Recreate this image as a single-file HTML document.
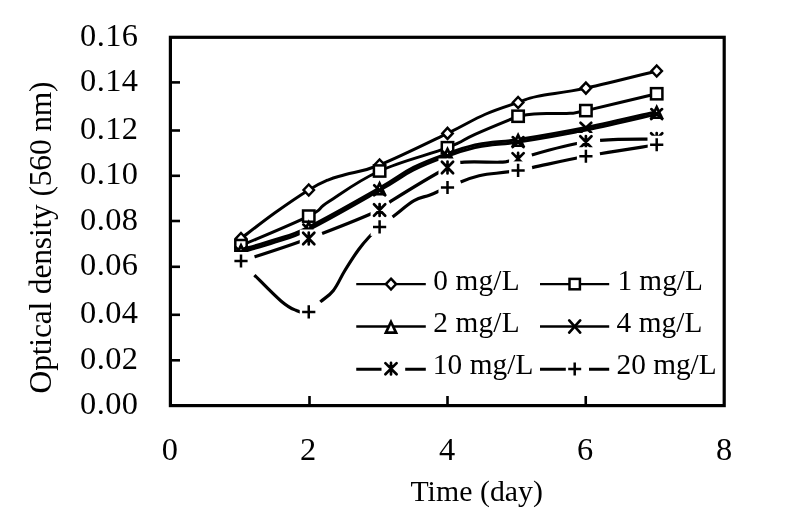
<!DOCTYPE html>
<html><head><meta charset="utf-8"><title>Optical density vs time</title>
<style>html,body{margin:0;padding:0;background:#fff}body{width:800px;height:527px;overflow:hidden}</style></head>
<body>
<svg width="800" height="527" viewBox="0 0 800 527" style="display:block">
<rect width="800" height="527" fill="#fff"/>
<rect x="170.4" y="37.3" width="553.8000000000001" height="368.3" fill="none" stroke="#000" stroke-width="3.2"/>
<line x1="170.4" y1="82.4" x2="180" y2="82.4" stroke="#000" stroke-width="2.6"/>
<line x1="170.4" y1="130.5" x2="180" y2="130.5" stroke="#000" stroke-width="2.6"/>
<line x1="170.4" y1="175.8" x2="180" y2="175.8" stroke="#000" stroke-width="2.6"/>
<line x1="170.4" y1="221" x2="180" y2="221" stroke="#000" stroke-width="2.6"/>
<line x1="170.4" y1="266.8" x2="180" y2="266.8" stroke="#000" stroke-width="2.6"/>
<line x1="170.4" y1="314.8" x2="180" y2="314.8" stroke="#000" stroke-width="2.6"/>
<line x1="170.4" y1="360.3" x2="180" y2="360.3" stroke="#000" stroke-width="2.6"/>
<line x1="309.5" y1="405.6" x2="309.5" y2="396" stroke="#000" stroke-width="2.6"/>
<line x1="447.5" y1="405.6" x2="447.5" y2="396" stroke="#000" stroke-width="2.6"/>
<line x1="585.75" y1="405.6" x2="585.75" y2="396" stroke="#000" stroke-width="2.6"/>
<path d="M241 238.5 C247.46 233.62 262.13 222.02 275 212.8 C287.87 203.59 298.58 196.27 308.75 190 C318.92 183.73 321.5 182.75 328.5 179.8 C335.5 176.86 335.89 177.31 345.6 174.5 C355.31 171.69 360.24 172.81 379.6 165 C398.96 157.19 427.51 143 447.5 133.4 C467.49 123.81 471.39 120.37 484.8 114.5 C498.21 108.63 508.13 105.94 518.1 102.5 C528.08 99.06 524.42 99.14 537.3 96.4 C550.18 93.66 563.21 92.93 585.9 88.1 C608.59 83.27 643.25 74.25 656.7 71" fill="none" stroke="#000" stroke-width="3.0" stroke-linejoin="round"/>
<path d="M241 233 L246.2 238.5 L241 244 L235.8 238.5Z" fill="#fff" stroke="#000" stroke-width="2.5" stroke-linejoin="miter"/>
<path d="M308.75 184.5 L313.95 190 L308.75 195.5 L303.55 190Z" fill="#fff" stroke="#000" stroke-width="2.5" stroke-linejoin="miter"/>
<path d="M379.6 159.5 L384.8 165 L379.6 170.5 L374.4 165Z" fill="#fff" stroke="#000" stroke-width="2.5" stroke-linejoin="miter"/>
<path d="M447.5 127.9 L452.7 133.4 L447.5 138.9 L442.3 133.4Z" fill="#fff" stroke="#000" stroke-width="2.5" stroke-linejoin="miter"/>
<path d="M518.1 97 L523.3 102.5 L518.1 108 L512.9 102.5Z" fill="#fff" stroke="#000" stroke-width="2.5" stroke-linejoin="miter"/>
<path d="M585.9 82.6 L591.1 88.1 L585.9 93.6 L580.7 88.1Z" fill="#fff" stroke="#000" stroke-width="2.5" stroke-linejoin="miter"/>
<path d="M656.7 65.5 L661.9 71 L656.7 76.5 L651.5 71Z" fill="#fff" stroke="#000" stroke-width="2.5" stroke-linejoin="miter"/>
<path d="M241 245.6 C253.87 240 292.12 224.42 308.75 216.1 C325.38 207.78 315.04 210.37 328.5 201.8 C341.96 193.23 356.99 181.28 379.6 171 C402.21 160.72 429.37 154.67 447.5 147.7 C465.63 140.73 461.59 140.28 475 134.3 C488.41 128.32 518.1 116.25 518.1 116.25 C518.1 116.25 527.56 114.52 534 114 C540.44 113.48 545.16 113.63 552 113.5 C558.84 113.37 563.56 113.85 570 113.3 C576.44 112.75 569.43 114.31 585.9 110.6 C602.37 106.89 643.25 96.95 656.7 93.75" fill="none" stroke="#000" stroke-width="3.0" stroke-linejoin="round"/>
<rect x="235.3" y="240" width="11.4" height="11.2" fill="#fff" stroke="#000" stroke-width="2.5"/>
<rect x="303.05" y="210.5" width="11.4" height="11.2" fill="#fff" stroke="#000" stroke-width="2.5"/>
<rect x="373.9" y="165.4" width="11.4" height="11.2" fill="#fff" stroke="#000" stroke-width="2.5"/>
<rect x="441.8" y="142.1" width="11.4" height="11.2" fill="#fff" stroke="#000" stroke-width="2.5"/>
<rect x="512.4" y="110.65" width="11.4" height="11.2" fill="#fff" stroke="#000" stroke-width="2.5"/>
<rect x="580.2" y="105" width="11.4" height="11.2" fill="#fff" stroke="#000" stroke-width="2.5"/>
<rect x="651" y="88.15" width="11.4" height="11.2" fill="#fff" stroke="#000" stroke-width="2.5"/>
<path d="M241 249.8 C247.46 247.88 262.13 244.03 275 239.7 C287.87 235.37 288.88 236.82 308.75 227 C328.62 217.18 359.7 199.32 379.6 188 C399.5 176.68 400.6 173.94 413.5 167.4 C426.4 160.86 435.81 157.86 447.5 153.6 C459.19 149.34 465.98 147.2 475 145 C484.02 142.8 486.81 143.03 495 142 C503.19 140.97 500.83 142.35 518.1 139.6 C535.37 136.84 559.57 132.82 585.9 127.5 C612.23 122.18 643.25 114.62 656.7 111.6" fill="none" stroke="#000" stroke-width="3.0" stroke-linejoin="round"/>
<path d="M241 245.3 L246.1 255.95 L235.9 255.95Z" fill="#fff" stroke="#000" stroke-width="2.7" stroke-linejoin="miter"/>
<path d="M308.75 222.5 L313.85 233.15 L303.65 233.15Z" fill="#fff" stroke="#000" stroke-width="2.7" stroke-linejoin="miter"/>
<path d="M379.6 183.5 L384.7 194.15 L374.5 194.15Z" fill="#fff" stroke="#000" stroke-width="2.7" stroke-linejoin="miter"/>
<path d="M447.5 149.1 L452.6 159.75 L442.4 159.75Z" fill="#fff" stroke="#000" stroke-width="2.7" stroke-linejoin="miter"/>
<path d="M518.1 135.1 L523.2 145.75 L513 145.75Z" fill="#fff" stroke="#000" stroke-width="2.7" stroke-linejoin="miter"/>
<path d="M656.7 107.1 L661.8 117.75 L651.6 117.75Z" fill="#fff" stroke="#000" stroke-width="2.7" stroke-linejoin="miter"/>
<path d="M241 252.2 C247.46 250.28 262.13 246.41 275 242.1 C287.87 237.79 288.88 239.34 308.75 229.5 C328.62 219.66 359.7 201.61 379.6 190.3 C399.5 179 400.6 176.52 413.5 170 C426.4 163.48 435.81 160.26 447.5 156 C459.19 151.74 465.98 149.77 475 147.6 C484.02 145.43 486.81 145.64 495 144.6 C503.19 143.56 500.83 144.87 518.1 142.1 C535.37 139.33 559.57 135.32 585.9 130 C612.23 124.68 643.25 117.12 656.7 114.1" fill="none" stroke="#000" stroke-width="3.0" stroke-linejoin="round"/>
<path d="M235.6 247.2 L246.4 257.2 M235.6 257.2 L246.4 247.2" fill="none" stroke="#000" stroke-width="2.7" stroke-linecap="round"/>
<path d="M303.35 224.5 L314.15 234.5 M303.35 234.5 L314.15 224.5" fill="none" stroke="#000" stroke-width="2.7" stroke-linecap="round"/>
<path d="M374.2 185.3 L385 195.3 M374.2 195.3 L385 185.3" fill="none" stroke="#000" stroke-width="2.7" stroke-linecap="round"/>
<path d="M442.1 151 L452.9 161 M442.1 161 L452.9 151" fill="none" stroke="#000" stroke-width="2.7" stroke-linecap="round"/>
<path d="M512.7 137.1 L523.5 147.1 M512.7 147.1 L523.5 137.1" fill="none" stroke="#000" stroke-width="2.7" stroke-linecap="round"/>
<path d="M580.5 122.8 L591.3 132.8 M580.5 132.8 L591.3 122.8" fill="none" stroke="#000" stroke-width="2.7" stroke-linecap="round"/>
<path d="M651.3 109.1 L662.1 119.1 M651.3 119.1 L662.1 109.1" fill="none" stroke="#000" stroke-width="2.7" stroke-linecap="round"/>
<path d="M241 261.3 C253.87 256.97 282.42 248.25 308.75 238.5" fill="none" stroke="#000" stroke-width="3.2" stroke-dasharray="0 14.3 400 0"/>
<path d="M308.75 238.5 C335.08 228.75 363.59 217.33 379.6 210" fill="none" stroke="#000" stroke-width="3.2" stroke-dasharray="0 14.3 400 0"/>
<path d="M379.6 210 C395.61 202.67 380.1 207.97 393 199.9 C405.9 191.83 434.39 174.64 447.5 167.5" fill="none" stroke="#000" stroke-width="3.2" stroke-dasharray="0 13.2 400 0"/>
<path d="M447.5 167.5 C460.61 160.36 452.02 163.31 462 162.3 C471.98 161.29 491.07 162.45 500 162.2 C508.93 161.95 505.56 161.65 509 161 C512.44 160.35 503.49 162.41 518.1 158.8" fill="none" stroke="#000" stroke-width="3.2" stroke-dasharray="0 14.3 400 0"/>
<path d="M518.1 158.8 C532.71 155.19 559.57 145.76 585.9 142" fill="none" stroke="#000" stroke-width="3.2" stroke-dasharray="0 14.3 400 0"/>
<path d="M585.9 142 C612.23 138.24 643.25 139.57 656.7 139" fill="none" stroke="#000" stroke-width="3.2" stroke-dasharray="0 14.3 400 0"/>
<rect x="232" y="252.3" width="18" height="18" fill="#fff"/><path d="M235.4 255.6 L246.6 267 M235.4 267 L246.6 255.6 M241 255.4 L241 267.2" fill="none" stroke="#000" stroke-width="2.7" stroke-linecap="round"/>
<rect x="299.75" y="229.5" width="18" height="18" fill="#fff"/><path d="M303.15 232.8 L314.35 244.2 M303.15 244.2 L314.35 232.8 M308.75 232.6 L308.75 244.4" fill="none" stroke="#000" stroke-width="2.7" stroke-linecap="round"/>
<rect x="370.6" y="201" width="18" height="18" fill="#fff"/><path d="M374 204.3 L385.2 215.7 M374 215.7 L385.2 204.3 M379.6 204.1 L379.6 215.9" fill="none" stroke="#000" stroke-width="2.7" stroke-linecap="round"/>
<rect x="438.5" y="158.5" width="18" height="18" fill="#fff"/><path d="M441.9 161.8 L453.1 173.2 M441.9 173.2 L453.1 161.8 M447.5 161.6 L447.5 173.4" fill="none" stroke="#000" stroke-width="2.7" stroke-linecap="round"/>
<rect x="509.1" y="149.8" width="18" height="18" fill="#fff"/><path d="M512.5 153.1 L523.7 164.5 M512.5 164.5 L523.7 153.1 M518.1 152.9 L518.1 164.7" fill="none" stroke="#000" stroke-width="2.7" stroke-linecap="round"/>
<rect x="576.9" y="133" width="18" height="18" fill="#fff"/><path d="M580.3 136.3 L591.5 147.7 M580.3 147.7 L591.5 136.3 M585.9 136.1 L585.9 147.9" fill="none" stroke="#000" stroke-width="2.7" stroke-linecap="round"/>
<rect x="647.7" y="130" width="18" height="18" fill="#fff"/><path d="M651.1 133.3 L662.3 144.7 M651.1 144.7 L662.3 133.3 M656.7 133.1 L656.7 144.9" fill="none" stroke="#000" stroke-width="2.7" stroke-linecap="round"/>
<path d="M241 261 C243.55 263.66 246.75 267.35 254.4 275 C262.05 282.65 273.35 294.54 281.25 301.25 C289.15 307.96 290.77 308.28 296 310.3 C301.23 312.32 304.14 313.5 308.75 311.9" fill="none" stroke="#000" stroke-width="3.2" stroke-dasharray="0 19.4 400 0"/>
<path d="M308.75 311.9 C313.36 310.3 315.57 305.98 320.25 301.9 C324.93 297.81 328.72 296.37 333.4 290.4 C338.08 284.43 340.13 278.23 344.9 270.5 C349.67 262.77 353.73 256.25 358.5 249.7 C363.27 243.14 365.99 240.33 370 236 C374.01 231.67 374.89 230.85 379.6 226.9" fill="none" stroke="#000" stroke-width="3.2" stroke-dasharray="0 15.4 400 0"/>
<path d="M379.6 226.9 C384.31 222.95 388.25 220.2 394.8 215.2 C401.36 210.2 407.41 204.44 414.1 200.6 C420.79 196.76 423.65 197.49 430 195 C436.35 192.51 438.17 191.15 447.5 187.5" fill="none" stroke="#000" stroke-width="3.2" stroke-dasharray="0 16.5 400 0"/>
<path d="M447.5 187.5 C456.83 183.85 465.69 179.05 479.1 175.8 C492.51 172.55 497.81 174.11 518.1 170.4" fill="none" stroke="#000" stroke-width="3.2" stroke-dasharray="0 14.3 400 0"/>
<path d="M518.1 170.4 C538.39 166.69 559.57 161.12 585.9 156.25" fill="none" stroke="#000" stroke-width="3.2" stroke-dasharray="0 14.3 400 0"/>
<path d="M585.9 156.25 C612.23 151.38 643.25 146.94 656.7 144.75" fill="none" stroke="#000" stroke-width="3.2" stroke-dasharray="0 14.3 400 0"/>
<rect x="232" y="252" width="18" height="18" fill="#fff"/><path d="M234.4 261 L247.6 261 M241 254.4 L241 267.6" fill="none" stroke="#000" stroke-width="2.5"/>
<rect x="299.75" y="302.9" width="18" height="18" fill="#fff"/><path d="M302.15 311.9 L315.35 311.9 M308.75 305.3 L308.75 318.5" fill="none" stroke="#000" stroke-width="2.5"/>
<rect x="370.6" y="217.9" width="18" height="18" fill="#fff"/><path d="M373 226.9 L386.2 226.9 M379.6 220.3 L379.6 233.5" fill="none" stroke="#000" stroke-width="2.5"/>
<rect x="438.5" y="178.5" width="18" height="18" fill="#fff"/><path d="M440.9 187.5 L454.1 187.5 M447.5 180.9 L447.5 194.1" fill="none" stroke="#000" stroke-width="2.5"/>
<rect x="509.1" y="161.4" width="18" height="18" fill="#fff"/><path d="M511.5 170.4 L524.7 170.4 M518.1 163.8 L518.1 177" fill="none" stroke="#000" stroke-width="2.5"/>
<rect x="576.9" y="147.25" width="18" height="18" fill="#fff"/><path d="M579.3 156.25 L592.5 156.25 M585.9 149.65 L585.9 162.85" fill="none" stroke="#000" stroke-width="2.5"/>
<rect x="647.7" y="135.75" width="18" height="18" fill="#fff"/><path d="M650.1 144.75 L663.3 144.75 M656.7 138.15 L656.7 151.35" fill="none" stroke="#000" stroke-width="2.5"/>
<line x1="356.25" y1="284.1" x2="425.8" y2="284.1" stroke="#000" stroke-width="2.4"/>
<path d="M391 278.7 L396.1 284.1 L391 289.5 L385.9 284.1Z" fill="#fff" stroke="#000" stroke-width="2.5" stroke-linejoin="miter"/>
<line x1="540" y1="284.1" x2="609.2" y2="284.1" stroke="#000" stroke-width="2.4"/>
<rect x="569.5" y="278.9" width="10.4" height="10.4" fill="#fff" stroke="#000" stroke-width="2.5"/>
<line x1="356.25" y1="326.5" x2="425.8" y2="326.5" stroke="#000" stroke-width="2.4"/>
<path d="M391 322 L396.1 332.65 L385.9 332.65Z" fill="#fff" stroke="#000" stroke-width="2.7" stroke-linejoin="miter"/>
<line x1="540" y1="326.5" x2="609.2" y2="326.5" stroke="#000" stroke-width="2.4"/>
<path d="M569.2 320.4 L580.2 332.6 M569.2 332.6 L580.2 320.4" fill="none" stroke="#000" stroke-width="2.7" stroke-linecap="round"/>
<path d="M356.25 369.2 H381.5 M405.2 369.2 H425.8" stroke="#000" stroke-width="3.1" fill="none"/>
<rect x="391" y="368.7" width="0" height="0" fill="#fff"/><path d="M385.4 363.1 L396.6 374.3 M385.4 374.3 L396.6 363.1 M391 362.9 L391 374.5" fill="none" stroke="#000" stroke-width="2.7" stroke-linecap="round"/>
<path d="M540 369.2 H565.8 M589 369.2 H609.2" stroke="#000" stroke-width="3.1" fill="none"/>
<rect x="574.7" y="369" width="0" height="0" fill="#fff"/><path d="M568.2 369 L581.2 369 M574.7 362.5 L574.7 375.5" fill="none" stroke="#000" stroke-width="2.5"/>
<text x="138" y="45.849999999999994" font-size="32.4" text-anchor="end" font-family="'Liberation Serif',serif" fill="#000" textLength="58" lengthAdjust="spacing">0.16</text>
<text x="138" y="90.95" font-size="32.4" text-anchor="end" font-family="'Liberation Serif',serif" fill="#000" textLength="58" lengthAdjust="spacing">0.14</text>
<text x="138" y="139.05" font-size="32.4" text-anchor="end" font-family="'Liberation Serif',serif" fill="#000" textLength="58" lengthAdjust="spacing">0.12</text>
<text x="138" y="184.35000000000002" font-size="32.4" text-anchor="end" font-family="'Liberation Serif',serif" fill="#000" textLength="58" lengthAdjust="spacing">0.10</text>
<text x="138" y="229.55" font-size="32.4" text-anchor="end" font-family="'Liberation Serif',serif" fill="#000" textLength="58" lengthAdjust="spacing">0.08</text>
<text x="138" y="275.35" font-size="32.4" text-anchor="end" font-family="'Liberation Serif',serif" fill="#000" textLength="58" lengthAdjust="spacing">0.06</text>
<text x="138" y="323.35" font-size="32.4" text-anchor="end" font-family="'Liberation Serif',serif" fill="#000" textLength="58" lengthAdjust="spacing">0.04</text>
<text x="138" y="368.85" font-size="32.4" text-anchor="end" font-family="'Liberation Serif',serif" fill="#000" textLength="58" lengthAdjust="spacing">0.02</text>
<text x="138" y="414.15000000000003" font-size="32.4" text-anchor="end" font-family="'Liberation Serif',serif" fill="#000" textLength="58" lengthAdjust="spacing">0.00</text>
<text x="169.75" y="460.2" font-size="32.4" text-anchor="middle" font-family="'Liberation Serif',serif" fill="#000" >0</text>
<text x="308.2" y="460.2" font-size="32.4" text-anchor="middle" font-family="'Liberation Serif',serif" fill="#000" >2</text>
<text x="447" y="460.2" font-size="32.4" text-anchor="middle" font-family="'Liberation Serif',serif" fill="#000" >4</text>
<text x="585" y="460.2" font-size="32.4" text-anchor="middle" font-family="'Liberation Serif',serif" fill="#000" >6</text>
<text x="724" y="460.2" font-size="32.4" text-anchor="middle" font-family="'Liberation Serif',serif" fill="#000" >8</text>
<text x="410.4" y="501" font-size="29.8" text-anchor="start" font-family="'Liberation Serif',serif" fill="#000" textLength="132.6" lengthAdjust="spacing">Time (day)</text>
<text transform="translate(51.3,393.4) rotate(-90)" font-size="31.5" font-family="'Liberation Serif',serif" fill="#000" textLength="312" lengthAdjust="spacing">Optical density (560 nm)</text>
<text x="433.2" y="289.5" font-size="29.3" text-anchor="start" font-family="'Liberation Serif',serif" fill="#000" textLength="86.4" lengthAdjust="spacing">0 mg/L</text>
<text x="617.4" y="289.5" font-size="29.3" text-anchor="start" font-family="'Liberation Serif',serif" fill="#000" textLength="85.4" lengthAdjust="spacing">1 mg/L</text>
<text x="433.2" y="331.8" font-size="29.3" text-anchor="start" font-family="'Liberation Serif',serif" fill="#000" textLength="86.4" lengthAdjust="spacing">2 mg/L</text>
<text x="616.6" y="331.8" font-size="29.3" text-anchor="start" font-family="'Liberation Serif',serif" fill="#000" textLength="85.8" lengthAdjust="spacing">4 mg/L</text>
<text x="432.8" y="374.2" font-size="29.3" text-anchor="start" font-family="'Liberation Serif',serif" fill="#000" textLength="100.6" lengthAdjust="spacing">10 mg/L</text>
<text x="616.6" y="374.2" font-size="29.3" text-anchor="start" font-family="'Liberation Serif',serif" fill="#000" textLength="100.0" lengthAdjust="spacing">20 mg/L</text>
</svg>
</body></html>
